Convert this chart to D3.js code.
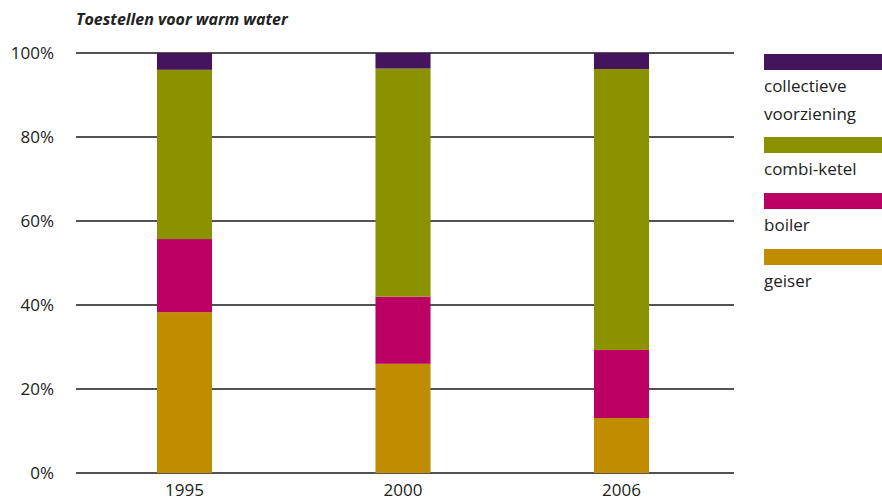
<!DOCTYPE html>
<html><head><meta charset="utf-8">
<script src="https://cdn.jsdelivr.net/npm/d3@7"></script>
<style>
body{margin:0;background:#fff;}
svg text{font-family:"Open Sans","Noto Sans",sans-serif;fill:#222;}
</style></head>
<body><svg id="c" width="882" height="503"></svg>
<script>
const title = "Toestellen voor warm water";
const years = ["1995", "2000", "2006"];
const seriesNames = ["geiser", "boiler", "combi-ketel", "collectieve voorziening"];
const geiser = [38.3, 26.0, 13.1];
const boiler = [17.4, 16.0, 16.2];
const combiKetel = [40.3, 54.3, 66.9];
const collectief = [4.0, 3.7, 3.8];
const yTicks = [0, 20, 40, 60, 80, 100];
const colors = ["#c08d00", "#bb0064", "#8c9100", "#44145c"];
const legendOrder = [3, 2, 1, 0];

const svg = d3.select("#c");
const rows = years.map((y, i) => ({year: y, "geiser": geiser[i], "boiler": boiler[i], "combi-ketel": combiKetel[i], "collectieve voorziening": collectief[i]}));
const stack = d3.stack().keys(seriesNames)(rows);

const y = d3.scaleLinear().domain([0, 100]).range([473, 53]);
const x = d3.scaleBand().domain(years).range([75.25, 730.75]).paddingInner(0.748).paddingOuter(0.374);
const gridX0 = 76, gridX1 = 734;
const fs = "17px";

svg.append("text").attr("x", 76).attr("y", 25).text(title)
  .style("font-weight", "bold").style("font-style", "italic").style("font-size", "16px");

// gridlines
svg.append("g").selectAll("line").data(yTicks).join("line")
  .attr("x1", gridX0).attr("x2", gridX1)
  .attr("y1", d => y(d)).attr("y2", d => y(d))
  .attr("stroke", "#1a1a1a").attr("stroke-width", 1.4);

// y labels
const yAxis = d3.axisLeft(y).tickValues(yTicks).tickFormat(d => d + "%").tickSize(0).tickPadding(0);
const ga = svg.append("g").attr("transform", "translate(54,0)").call(yAxis);
ga.select(".domain").remove();
ga.selectAll("text").style("font-size", fs).style("font-family", '"Open Sans","Noto Sans",sans-serif').attr("fill", "#222");

// bars
svg.append("g").selectAll("g").data(stack).join("g")
  .attr("fill", (d, i) => colors[i])
  .selectAll("rect").data(d => d).join("rect")
  .attr("x", d => x(d.data.year)).attr("width", x.bandwidth())
  .attr("y", d => y(d[1])).attr("height", d => y(d[0]) - y(d[1]));

// x labels
const xAxis = d3.axisBottom(x).tickSize(0).tickPadding(0);
const gx = svg.append("g").attr("transform", "translate(0,480)").call(xAxis);
gx.select(".domain").remove();
gx.selectAll("text").style("font-size", fs).style("font-family", '"Open Sans","Noto Sans",sans-serif').attr("fill", "#222").attr("dy", "0.92em");

// legend
const legTops = [54, 137, 193, 249];
const lg = svg.append("g");
legendOrder.forEach((si, k) => {
  lg.append("rect").attr("x", 764).attr("y", legTops[k]).attr("width", 118).attr("height", 16).attr("fill", colors[si]);
  const words = si === 3 ? ["collectieve", "voorziening"] : [seriesNames[si]];
  words.forEach((w, j) => {
    lg.append("text").attr("x", 764).attr("y", legTops[k] + 38 + j * 28).text(w).style("font-size", fs);
  });
});
</script></body></html>
